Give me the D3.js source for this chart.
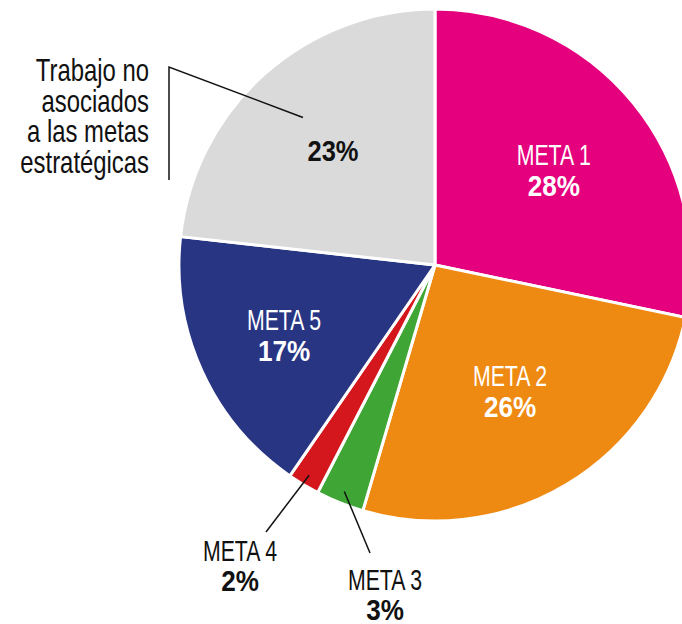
<!DOCTYPE html>
<html>
<head>
<meta charset="utf-8">
<script src="https://cdn.jsdelivr.net/npm/d3@7"></script>
<style>
  body { margin: 0; background: #fff; }
  svg { display: block; }
  text { font-family: "Liberation Sans", Arial, sans-serif; }
</style>
</head>
<body>
<script>
    var width = 682, height = 624;
    var cx = 435, cy = 265, radius = 256;

    // data, clockwise from 12 o'clock
    var categories = ["META 1", "META 2", "META 3", "META 4", "META 5", "Trabajo"];
    var values = [28, 26, 3, 2, 17, 23];
    var labels = ["28%", "26%", "3%", "2%", "17%", "23%"];
    var colors = ["#e5007d", "#ee8a12", "#3fa535", "#d3171d", "#283583", "#dadada"];
    var grayLines = ["Trabajo no", "asociados", "a las metas", "estratégicas"];

    var data = categories.map(function(c, i) {
      return {name: c, value: values[i], label: labels[i], color: colors[i]};
    });

    var pie = d3.pie().sort(null).value(function(d) { return d.value; });
    var arc = d3.arc().innerRadius(0).outerRadius(radius);
    var arcs = pie(data);

    var svg = d3.select("body").append("svg")
      .attr("width", width)
      .attr("height", height);

    var g = svg.append("g")
      .attr("transform", "translate(" + cx + "," + cy + ")");

    g.selectAll("path.slice")
      .data(arcs)
      .enter().append("path")
      .attr("class", "slice")
      .attr("d", arc)
      .attr("fill", function(d) { return d.data.color; })
      .attr("stroke", "#fff")
      .attr("stroke-width", 3)
      .attr("stroke-linejoin", "round");

    function at(r, d) {
      return d3.arc().innerRadius(r).outerRadius(r).centroid(d);
    }

    // condensed text: squeeze a normal sans horizontally
    function label(parent, x, y, txt, opts) {
      return parent.append("text")
        .attr("transform", "translate(" + x + "," + y + ") scale(" + opts.sx + ",1)")
        .attr("text-anchor", opts.anchor || "middle")
        .attr("fill", opts.fill || "#111")
        .attr("font-size", opts.size || 30)
        .attr("font-weight", opts.bold ? "bold" : "normal")
        .text(txt);
    }

    //inside labels
    var inside = {"META 1": 153, "META 2": 146, "META 5": 166};
    arcs.forEach(function(d) {
      var r = inside[d.data.name];
      if (!r) return;
      var p = at(r, d);
      label(g, p[0], p[1] - 4, d.data.name, {sx: 0.71, fill: "#fff"});
      label(g, p[0], p[1] + 27, d.data.label, {sx: 0.87, fill: "#fff", bold: true});
    });

    //gray slice percent
    var gray = arcs[5];
    var gp = at(153, gray);
    label(g, gp[0], gp[1] + 10, gray.data.label, {sx: 0.85, bold: true});

    //leader lines, outside labels
    var leaders = [
      {i: 3, r: 245, end: [266, 532], text: [240, 561]},
      {i: 2, r: 244, end: [370, 553], text: [385, 590]}
    ];
    leaders.forEach(function(l) {
      var d = arcs[l.i];
      var p = at(l.r, d);
      svg.append("line")
        .attr("x1", cx + p[0]).attr("y1", cy + p[1])
        .attr("x2", l.end[0]).attr("y2", l.end[1])
        .attr("stroke", "#111").attr("stroke-width", 1.5);
      label(svg, l.text[0], l.text[1], d.data.name, {sx: 0.71});
      label(svg, l.text[0], l.text[1] + 30, d.data.label, {sx: 0.87, bold: true});
    });

    //bracket for gray slice
    var gs = at(198, gray);
    svg.append("path")
      .attr("d", "M" + (cx + gs[0]) + "," + (cy + gs[1]) + "L169,67L169,180")
      .attr("fill", "none")
      .attr("stroke", "#111")
      .attr("stroke-width", 1.5);

    grayLines.forEach(function(t, i) {
      label(svg, 149, 81 + i * 30.5, t, {sx: 0.77, size: 31, anchor: "end"});
    });
</script>
</body>
</html>
